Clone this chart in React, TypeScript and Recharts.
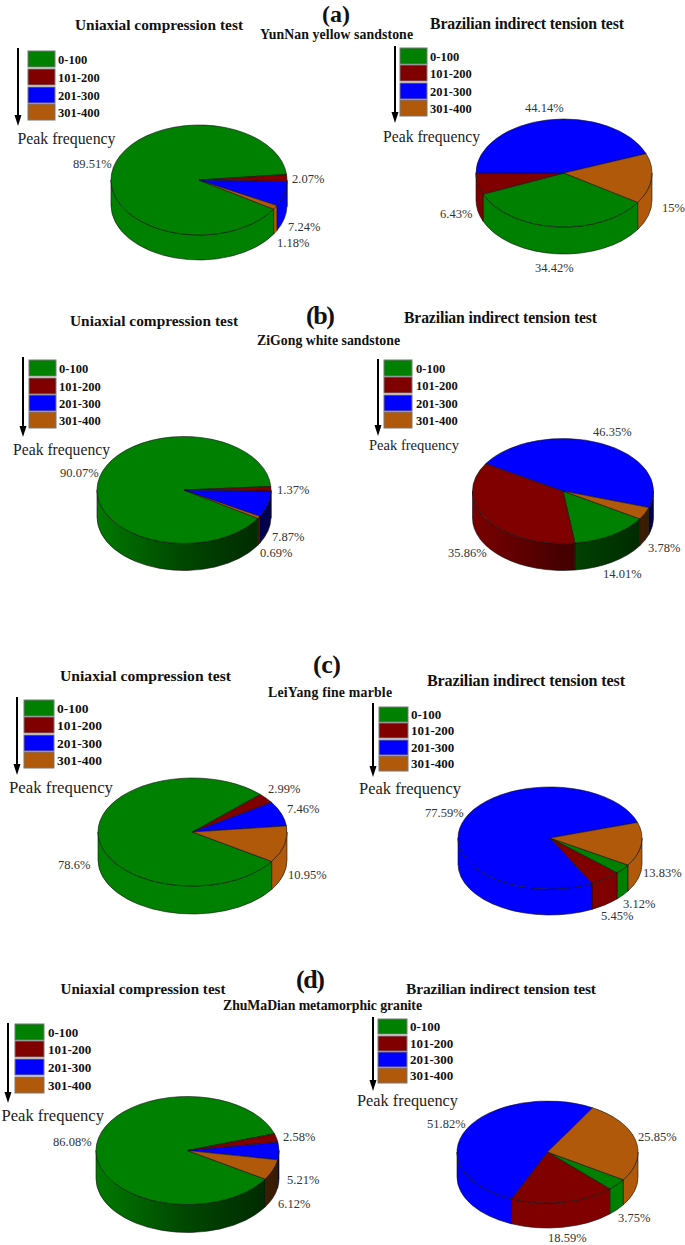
import { PieChart, Pie } from "recharts";

const RANGES = ["0-100", "101-200", "201-300", "301-400"];
const COLORS = ["#008000", "#800000", "#0000ff", "#b1590b"];

// peak frequency share in %, same order as RANGES
const yunnanUniaxial = [89.51, 2.07, 7.24, 1.18];
const yunnanBrazilian = [34.42, 6.43, 44.14, 15];
const zigongUniaxial = [90.07, 1.37, 7.87, 0.69];
const zigongBrazilian = [14.01, 35.86, 46.35, 3.78];
const leiyangUniaxial = [78.6, 2.99, 7.46, 10.95];
const leiyangBrazilian = [3.12, 5.45, 77.59, 13.83];
const zhumadianUniaxial = [86.08, 2.58, 5.21, 6.12];
const zhumadianBrazilian = [3.75, 18.59, 51.82, 25.85];

const UNIAXIAL = "Uniaxial compression test";
const BRAZILIAN = "Brazilian indirect tension test";
const SERIF = "'Liberation Serif', 'Times New Roman', serif";

const HEADINGS = [
  { tag: "(a)", tagX: 322, tagY: 21.5, tagW: 28, tagFont: 24, rock: "YunNan yellow sandstone", rockX: 260, rockY: 39, rockW: 153 },
  { tag: "(b)", tagX: 306, tagY: 324, tagW: 29, tagFont: 26, rock: "ZiGong white sandstone", rockX: 257, rockY: 345, rockW: 143 },
  { tag: "(c)", tagX: 313, tagY: 673, tagW: 28, tagFont: 26, rock: "LeiYang fine marble", rockX: 268, rockY: 697, rockW: 124 },
  { tag: "(d)", tagX: 296, tagY: 988, tagW: 29, tagFont: 26, rock: "ZhuMaDian metamorphic granite", rockX: 223, rockY: 1010, rockW: 199 },
];

const PANELS = [
  {
    id: "a1", values: yunnanUniaxial, title: UNIAXIAL, titleX: 75, titleY: 30, titleW: 168,
    cx: 199, cy: 180, rx: 88, ry: 55, depth: 25, start: -32, shaded: false,
    boxX: 28, boxW: 27, boxH: 16, boxYs: [51, 69, 87, 104], textX: 58, legendFont: 12.5,
    arrowX: 18, arrowY1: 48, arrowY2: 126, peakX: 17.5, peakY: 144, peakW: 98,
    labels: [[73, 168], [292, 183], [288, 231], [277, 247]],
  },
  {
    id: "a2", values: yunnanBrazilian, title: BRAZILIAN, titleX: 430, titleY: 29, titleW: 194,
    cx: 564, cy: 173, rx: 88, ry: 54, depth: 27, start: -33, shaded: false,
    boxX: 400, boxW: 27, boxH: 16, boxYs: [48, 65, 83, 100], textX: 430, legendFont: 12.5,
    arrowX: 395, arrowY1: 46, arrowY2: 123, peakX: 383, peakY: 142, peakW: 97,
    labels: [[535, 272], [440, 218], [525, 112], [662, 212]],
  },
  {
    id: "b1", values: zigongUniaxial, title: UNIAXIAL, titleX: 70, titleY: 326, titleW: 168,
    cx: 184, cy: 490, rx: 87, ry: 53.5, depth: 27, start: -32, shaded: true,
    boxX: 29, boxW: 27, boxH: 16, boxYs: [360, 378, 395, 412], textX: 59, legendFont: 12.5,
    arrowX: 23, arrowY1: 357, arrowY2: 437, peakX: 13, peakY: 455, peakW: 97,
    labels: [[60, 477], [277, 494], [272, 541], [260, 557]],
  },
  {
    id: "b2", values: zigongBrazilian, title: BRAZILIAN, titleX: 404, titleY: 323, titleW: 193,
    cx: 563, cy: 491, rx: 90.5, ry: 52.5, depth: 27, start: -32, shaded: true,
    boxX: 384, boxW: 28, boxH: 16, boxYs: [360, 377, 395, 412], textX: 416, legendFont: 12.5,
    arrowX: 378, arrowY1: 359, arrowY2: 436, peakX: 369, peakY: 450, peakW: 90,
    labels: [[603, 578], [448, 557], [593, 436], [648, 552]],
  },
  {
    id: "c1", values: leiyangUniaxial, title: UNIAXIAL, titleX: 60, titleY: 681, titleW: 171,
    cx: 192.5, cy: 832, rx: 94.5, ry: 54, depth: 28, start: -33, shaded: false,
    boxX: 24, boxW: 30, boxH: 16, boxYs: [700, 717, 735, 752], textX: 57, legendFont: 13.5,
    arrowX: 17, arrowY1: 697, arrowY2: 775, peakX: 9, peakY: 793, peakW: 104,
    labels: [[58, 869], [268, 793], [287, 813], [288, 879]],
  },
  {
    id: "c2", values: leiyangBrazilian, title: BRAZILIAN, titleX: 427, titleY: 686, titleW: 198,
    cx: 550, cy: 838, rx: 92, ry: 51, depth: 26, start: -32, shaded: false,
    boxX: 379, boxW: 29, boxH: 15, boxYs: [707, 723, 740, 756], textX: 411, legendFont: 13,
    arrowX: 373, arrowY1: 703, arrowY2: 777, peakX: 359, peakY: 794, peakW: 102,
    labels: [[623, 908], [601, 920], [425, 817], [643, 877]],
  },
  {
    id: "d1", values: zhumadianUniaxial, title: UNIAXIAL, titleX: 60.5, titleY: 994, titleW: 165,
    cx: 187.5, cy: 1150.5, rx: 91.5, ry: 54, depth: 28, start: -32, shaded: true,
    boxX: 15, boxW: 29, boxH: 16, boxYs: [1024, 1041, 1059, 1077], textX: 48, legendFont: 13,
    arrowX: 8, arrowY1: 1023, arrowY2: 1103, peakX: 1.5, peakY: 1121, peakW: 102.5,
    labels: [[53, 1146], [283, 1141], [287, 1184], [278, 1208]],
  },
  {
    id: "d2", values: zhumadianBrazilian, title: BRAZILIAN, titleX: 406, titleY: 994, titleW: 190,
    cx: 547.5, cy: 1152, rx: 90.5, ry: 51, depth: 25, start: -33, shaded: false,
    boxX: 378, boxW: 29, boxH: 15, boxYs: [1019, 1036, 1052, 1068], textX: 410, legendFont: 13,
    arrowX: 373, arrowY1: 1017, arrowY2: 1091, peakX: 357, peakY: 1106, peakW: 101,
    labels: [[618, 1222], [548, 1242], [427, 1128], [638, 1141]],
  },
];

const rad = (deg: number) => (deg * Math.PI) / 180;

function darken(hex: string, k: number) {
  const n = parseInt(hex.slice(1), 16);
  const c = [(n >> 16) & 255, (n >> 8) & 255, n & 255].map((v) => Math.round(v * k));
  return `rgb(${c.join(",")})`;
}

// squashes the library's circular sector into the tilted top face
const topFace = (ry: number) => (props: any) => {
  const { cx, cy, outerRadius: rx, startAngle, endAngle, fill } = props;
  const x = (a: number) => cx + rx * Math.cos(rad(a));
  const y = (a: number) => cy - ry * Math.sin(rad(a));
  const large = startAngle - endAngle > 180 ? 1 : 0;
  const d = `M${cx},${cy} L${x(startAngle)},${y(startAngle)} A${rx},${ry} 0 ${large} 1 ${x(endAngle)},${y(endAngle)} Z`;
  return <path d={d} fill={fill} stroke="#111" strokeWidth={0.6} strokeLinejoin="round" />;
};

// side of the cake, only the part of a slice that faces the viewer
const sideWall = (id: string, ry: number, depth: number, shaded: boolean) => (props: any) => {
  const { cx, cy, outerRadius: rx, startAngle, endAngle, fill, index } = props;
  const x = (a: number) => cx + rx * Math.cos(rad(a));
  const y = (a: number) => cy - ry * Math.sin(rad(a));
  const parts: string[] = [];
  [360, 0, -360, -720].forEach((turn) => {
    const a0 = Math.min(startAngle, turn);
    const a1 = Math.max(endAngle, turn - 180);
    if (a0 <= a1) return;
    parts.push(
      `M${x(a0)},${y(a0)} A${rx},${ry} 0 0 1 ${x(a1)},${y(a1)} L${x(a1)},${y(a1) + depth} A${rx},${ry} 0 0 0 ${x(a0)},${y(a0) + depth} Z`,
    );
  });
  if (!parts.length) return <g />;
  const gradId = `wall-${id}-${index}`;
  return (
    <g>
      {shaded && (
        <defs>
          <linearGradient id={gradId} gradientUnits="userSpaceOnUse" x1={cx - rx} x2={cx + rx} y1={0} y2={0}>
            <stop offset="0" stopColor={darken(fill, 0.95)} />
            <stop offset="0.5" stopColor={darken(fill, 0.55)} />
            <stop offset="1" stopColor={darken(fill, 0.3)} />
          </linearGradient>
        </defs>
      )}
      <path d={parts.join(" ")} fill={shaded ? `url(#${gradId})` : fill} stroke="#111" strokeWidth={0.6} />
    </g>
  );
};

const percentLabel = (labels: number[][]) => (props: any) => {
  const [x, y] = labels[props.index];
  return (
    <text key={props.index} x={x} y={y} fontFamily={SERIF} fontSize={12.5} fill="#333" stroke="none">
      {`${props.value}%`}
    </text>
  );
};

function buildRows(values: number[]) {
  return RANGES.map((name, i) => ({ name, value: values[i], fill: COLORS[i] }));
}

export default function App() {
  return (
    <div style={{ position: "absolute", left: 0, top: 0, width: 685, height: 1245, overflow: "hidden", background: "#fff" }}>
      <PieChart width={685} height={1245} margin={{ top: 0, right: 0, bottom: 0, left: 0 }}>
        {PANELS.map((p) => (
          <Pie
            key={`${p.id}-wall`}
            data={buildRows(p.values)}
            dataKey="value"
            nameKey="name"
            cx={p.cx}
            cy={p.cy}
            outerRadius={p.rx}
            startAngle={p.start}
            endAngle={p.start - 360}
            shape={sideWall(p.id, p.ry, p.depth, p.shaded)}
            labelLine={false}
            isAnimationActive={false}
          />
        ))}
        {PANELS.map((p) => (
          <Pie
            key={`${p.id}-top`}
            data={buildRows(p.values)}
            dataKey="value"
            nameKey="name"
            cx={p.cx}
            cy={p.cy}
            outerRadius={p.rx}
            startAngle={p.start}
            endAngle={p.start - 360}
            shape={topFace(p.ry)}
            label={percentLabel(p.labels)}
            labelLine={false}
            isAnimationActive={false}
          />
        ))}
        {HEADINGS.map((h) => (
          <g key={h.tag} fontFamily={SERIF} fontWeight="bold" fill="#111">
            <text x={h.tagX} y={h.tagY} fontSize={h.tagFont} textLength={h.tagW}>{h.tag}</text>
            <text x={h.rockX} y={h.rockY} fontSize={13.8} textLength={h.rockW}>{h.rock}</text>
          </g>
        ))}
        {PANELS.map((p) => (
          <g key={`${p.id}-legend`} fontFamily={SERIF} fill="#111">
            <text
              x={p.titleX}
              y={p.titleY}
              fontSize={p.titleW / (p.title === UNIAXIAL ? 10.944 : 12.283)}
              fontWeight="bold"
              textLength={p.titleW}
            >
              {p.title}
            </text>
            {RANGES.map((r, i) => (
              <g key={r}>
                <rect x={p.boxX} y={p.boxYs[i]} width={p.boxW} height={p.boxH} fill={COLORS[i]} stroke="#777" strokeWidth={1} />
                <text x={p.textX} y={p.boxYs[i] + p.boxH - 3.5} fontSize={p.legendFont} fontWeight="bold">{r}</text>
              </g>
            ))}
            <line x1={p.arrowX} x2={p.arrowX} y1={p.arrowY1} y2={p.arrowY2 - 8} stroke="#000" strokeWidth={2} />
            <polygon points={`${p.arrowX - 3.5},${p.arrowY2 - 11} ${p.arrowX + 3.5},${p.arrowY2 - 11} ${p.arrowX},${p.arrowY2}`} fill="#000" />
            <text x={p.peakX} y={p.peakY} fontSize={p.peakW / 6.19} fill="#222" textLength={p.peakW}>Peak frequency</text>
          </g>
        ))}
      </PieChart>
    </div>
  );
}
